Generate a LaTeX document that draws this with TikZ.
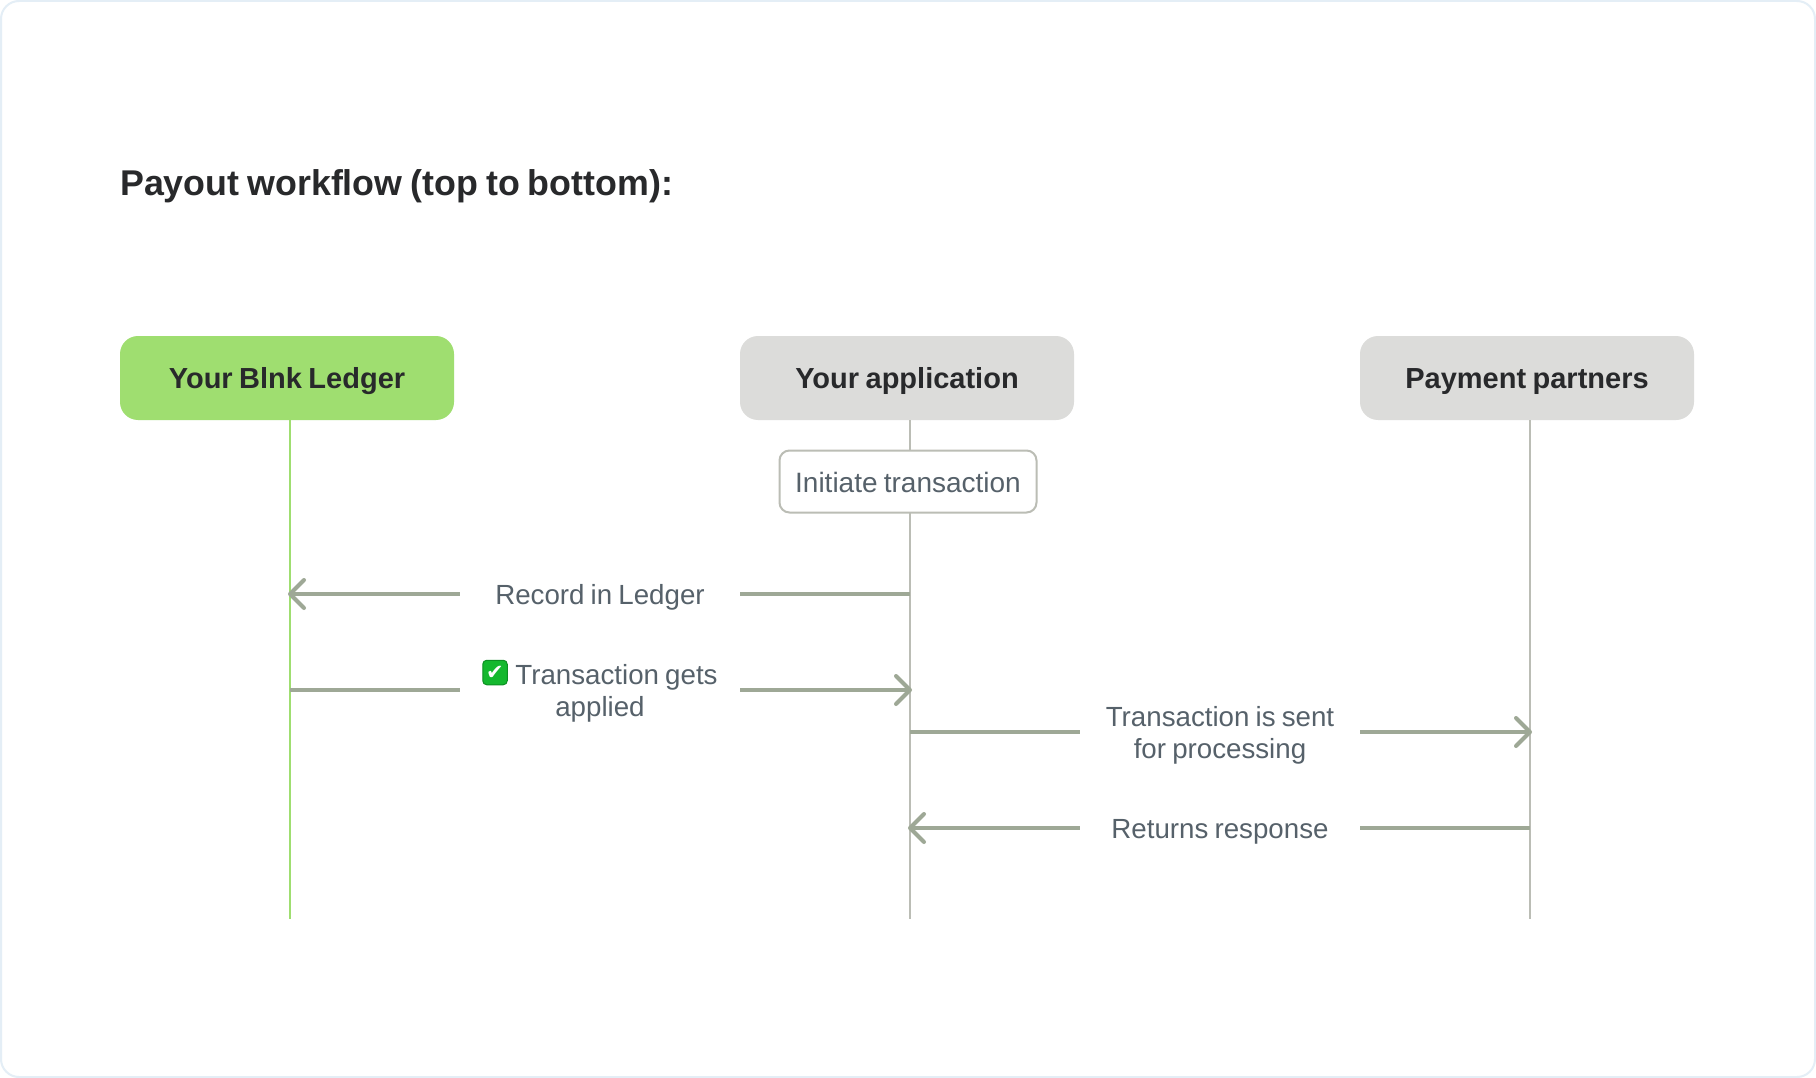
\documentclass[tikz,border=0pt]{standalone}
\usepackage{fontspec}
\setmainfont{Liberation Sans}[WordSpace=0.8]
\newfontfamily\symfont{DejaVu Sans}
\usetikzlibrary{arrows.meta}
\definecolor{frameC}{HTML}{E4EEF6}
\definecolor{greenC}{HTML}{9FDE70}
\definecolor{grayC}{HTML}{DCDCDA}
\definecolor{lifeC}{HTML}{BBBDB5}
\definecolor{arrowC}{HTML}{9EA896}
\definecolor{darkC}{HTML}{28292B}
\definecolor{labelC}{HTML}{56616A}
\definecolor{checkC}{HTML}{14B82E}
\definecolor{checkE}{HTML}{0C8F22}
\tikzset{
  header/.style={rounded corners=18pt,minimum width=334pt,minimum height=84pt,inner sep=0pt,text height=26pt,text depth=6pt,text=darkC,font=\fontsize{29}{32}\selectfont\bfseries},
  lifeline/.style={line width=2pt,draw=lifeC},
  msg/.style={line width=4pt,draw=arrowC},
  msgtip/.style={msg,-{Straight Barb[length=14pt,width=28pt,line width=4pt,round]},line cap=butt},
  lbl/.style={anchor=base,text width=280pt,align=flush center,inner sep=0pt,text=labelC,font=\fontsize{27.7}{32}\selectfont},
}
\begin{document}
\begin{tikzpicture}[x=1pt,y=-1pt]
\useasboundingbox (0,0) rectangle (1816,1078);
\fill[white] (0,0) rectangle (1816,1078);
\draw[frameC,line width=2pt,rounded corners=18pt] (1,1) rectangle (1815,1077);

\node[anchor=base west,inner sep=0pt,text=darkC,font=\fontsize{35.8}{40}\selectfont\bfseries] (title) at (120,196) {Payout workflow (top to bottom):};

\node[header,fill=greenC] (ledger) at (287,378) {Your Blnk Ledger};
\node[header,fill=grayC] (app) at (907,378) {Your application};
\node[header,fill=grayC] (partners) at (1527,378) {Payment partners};

\coordinate (ledgerEnd) at (290,919);
\coordinate (appEnd) at (910,919);
\coordinate (partnersEnd) at (1530,919);

\draw[lifeline,draw=greenC] (290,420) -- (ledgerEnd);
\draw[lifeline] (910,420) -- (appEnd);
\draw[lifeline] (1530,420) -- (partnersEnd);

\node[rounded corners=10pt,draw=lifeC,line width=2pt,fill=white,minimum width=257pt,minimum height=62pt,inner sep=0pt,text height=27pt,text depth=6pt,text=labelC,font=\fontsize{28}{32}\selectfont] (init) at (908,481.5) {Initiate transaction};

\node[lbl] (rec) at (600,604) {Record in Ledger};
\node[lbl] (applied) at (600,684) {\hspace*{33pt}Transaction gets\\applied};
\node[lbl] (sent) at (1220,726) {Transaction is sent\\for processing};
\node[lbl] (ret) at (1220,838) {Returns response};

\node[draw=checkE,fill=checkC,line width=1pt,rounded corners=4pt,minimum size=24.5pt,inner sep=0pt,text=white,font=\symfont\fontsize{21}{21}\selectfont] (tick) at (495,672.5) {✔};

\coordinate (recL) at (288,594);
\coordinate (recR) at (910,594);
\coordinate (appL) at (290,690);
\coordinate (appR) at (912,690);
\coordinate (sentL) at (910,732);
\coordinate (sentR) at (1532,732);
\coordinate (retL) at (908,828);
\coordinate (retR) at (1530,828);

\draw[msgtip] (rec.west |- recL) -- (recL);
\draw[msg] (recR) -- (rec.east |- recR);
\draw[msg] (appL) -- (applied.west |- appL);
\draw[msgtip] (applied.east |- appR) -- (appR);
\draw[msg] (sentL) -- (sent.west |- sentL);
\draw[msgtip] (sent.east |- sentR) -- (sentR);
\draw[msgtip] (ret.west |- retL) -- (retL);
\draw[msg] (retR) -- (ret.east |- retR);
\end{tikzpicture}
\end{document}
